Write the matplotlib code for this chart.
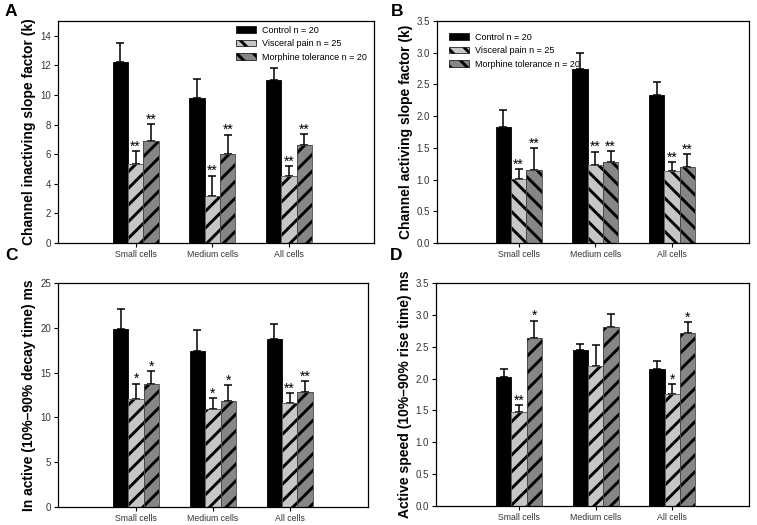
import matplotlib
matplotlib.use('Agg')
import matplotlib.pyplot as plt
from matplotlib.patches import Patch
import numpy as np

plt.rcParams['font.family'] = ['Liberation Sans', 'DejaVu Sans']
plt.rcParams['hatch.linewidth'] = 2.1

groups = ['Small cells', 'Medium cells', 'All cells']
series_labels = ['Control n = 20', 'Visceral pain n = 25', 'Morphine tolerance n = 20']

# Panel A
a_control = [12.22, 9.82, 10.98]
a_control_err = [1.28, 1.26, 0.87]
a_visceral = [5.36, 3.17, 4.54]
a_visceral_err = [0.87, 1.39, 0.66]
a_morphine = [6.90, 5.98, 6.65]
a_morphine_err = [1.15, 1.35, 0.72]
a_visceral_sig = ['**', '**', '**']
a_morphine_sig = ['**', '**', '**']

# Panel B
b_control = [1.83, 2.74, 2.33]
b_control_err = [0.27, 0.26, 0.21]
b_visceral = [1.01, 1.23, 1.14]
b_visceral_err = [0.16, 0.21, 0.13]
b_morphine = [1.15, 1.27, 1.20]
b_morphine_err = [0.34, 0.18, 0.20]
b_visceral_sig = ['**', '**', '**']
b_morphine_sig = ['**', '**', '**']

# Panel C
c_control = [19.9, 17.43, 18.74]
c_control_err = [2.2, 2.27, 1.66]
c_visceral = [12.0, 10.98, 11.66]
c_visceral_err = [1.76, 1.16, 1.05]
c_morphine = [13.72, 11.88, 12.78]
c_morphine_err = [1.48, 1.76, 1.24]
c_visceral_sig = ['*', '*', '**']
c_morphine_sig = ['*', '*', '**']

# Panel D
d_control = [2.02, 2.45, 2.15]
d_control_err = [0.13, 0.09, 0.13]
d_visceral = [1.48, 2.20, 1.76]
d_visceral_err = [0.10, 0.32, 0.15]
d_morphine = [2.64, 2.81, 2.72]
d_morphine_err = [0.27, 0.21, 0.17]
d_visceral_sig = ['**', '', '*']
d_morphine_sig = ['*', '', '*']

ylabels = {
    'A': 'Channel inactiving slope factor (k)',
    'B': 'Channel activing slope factor (k)',
    'C': 'In active (10%\u201390% decay time) ms',
    'D': 'Active speed (10%\u201390% rise time) ms',
}

W, H = 757, 525
fig = plt.figure(figsize=(W / 100, H / 100), dpi=100)

def px_axes(l, t, r, b):
    return fig.add_axes([l / W, 1 - b / H, (r - l) / W, (b - t) / H])

CTRL = '#000000'
VISC = '#c6c6c6'
MORPH = '#868686'

def draw_panel(ax, ctrl, ctrl_e, visc, visc_e, morph, morph_e, vsig, msig,
               hatch, ylim, yticks, yfmt, xlim, ylabel):
    x = np.arange(len(groups))
    w = 0.2
    ekw = dict(ecolor='black', elinewidth=1.1, capsize=2.6, capthick=1.1)
    ax.bar(x - w, ctrl, w, color=CTRL, edgecolor='black', linewidth=0.6,
           yerr=[np.zeros(3), ctrl_e], error_kw=ekw, zorder=2)
    ax.bar(x, visc, w, color=VISC, edgecolor='black', linewidth=0, hatch=hatch,
           yerr=[np.zeros(3), visc_e], error_kw=ekw, zorder=2)
    ax.bar(x, visc, w, fill=False, edgecolor='#555555', linewidth=0.6, zorder=3)
    ax.bar(x + w, morph, w, color=MORPH, edgecolor='black', linewidth=0, hatch=hatch,
           yerr=[np.zeros(3), morph_e], error_kw=ekw, zorder=2)
    ax.bar(x + w, morph, w, fill=False, edgecolor='#444444', linewidth=0.6, zorder=3)
    for i in range(3):
        if vsig[i]:
            ax.annotate(vsig[i], (x[i], visc[i] + visc_e[i]), xytext=(0, -1.8),
                        textcoords='offset points', ha='center', va='bottom',
                        fontsize=10, color='black')
        if msig[i]:
            ax.annotate(msig[i], (x[i] + w, morph[i] + morph_e[i]), xytext=(0, -1.8),
                        textcoords='offset points', ha='center', va='bottom',
                        fontsize=10, color='black')
    ax.set_xlim(*xlim)
    ax.set_ylim(*ylim)
    ax.set_yticks(yticks)
    ax.set_yticklabels([yfmt.format(v) for v in yticks])
    ax.set_xticks(x)
    ax.set_xticklabels(groups)
    ax.tick_params(axis='both', labelcolor='#333333', length=3, width=0.8, pad=2)
    ax.tick_params(axis='y', labelsize=7)
    ax.tick_params(axis='x', labelsize=6.3)
    for s in ax.spines.values():
        s.set_linewidth(0.9)
    ax.set_ylabel(ylabel, fontsize=10, fontweight='bold', labelpad=3)

axA = px_axes(58, 21, 374, 243)
draw_panel(axA, a_control, a_control_err, a_visceral, a_visceral_err,
           a_morphine, a_morphine_err, a_visceral_sig, a_morphine_sig,
           '//', (0, 15), list(range(0, 15, 2)), '{:d}', (-1.013, 3.107), ylabels['A'])

axB = px_axes(437, 21, 749, 243)
draw_panel(axB, b_control, b_control_err, b_visceral, b_visceral_err,
           b_morphine, b_morphine_err, b_visceral_sig, b_morphine_sig,
           '\\\\', (0, 3.5), [0, 0.5, 1.0, 1.5, 2.0, 2.5, 3.0, 3.5], '{:.1f}',
           (-1.063, 3.005), ylabels['B'])

axC = px_axes(58, 283, 368, 507)
draw_panel(axC, c_control, c_control_err, c_visceral, c_visceral_err,
           c_morphine, c_morphine_err, c_visceral_sig, c_morphine_sig,
           '//', (0, 25), [0, 5, 10, 15, 20, 25], '{:d}', (-1.016, 3.02), ylabels['C'])

axD = px_axes(436, 283, 749, 506)
draw_panel(axD, d_control, d_control_err, d_visceral, d_visceral_err,
           d_morphine, d_morphine_err, d_visceral_sig, d_morphine_sig,
           '//', (0, 3.5), [0, 0.5, 1.0, 1.5, 2.0, 2.5, 3.0, 3.5], '{:.1f}',
           (-1.08, 3.0), ylabels['D'])

handles = [
    Patch(facecolor=CTRL, edgecolor='black', linewidth=0.5),
    Patch(facecolor=VISC, edgecolor='black', linewidth=0.5, hatch='\\\\'),
    Patch(facecolor=MORPH, edgecolor='black', linewidth=0.5, hatch='\\\\'),
]
legkw = dict(frameon=False, fontsize=6.5, handlelength=2.3, handleheight=0.75,
             handletextpad=0.6, labelspacing=0.5)
axA.legend(handles, series_labels, loc='upper left', bbox_to_anchor=((233 - 58) / 316, 1 - 2 / 222),
           borderaxespad=0, borderpad=0.3, **legkw)
axB.legend(handles, series_labels, loc='upper left', bbox_to_anchor=((446 - 437) / 312, 1 - 9 / 222),
           borderaxespad=0, borderpad=0.3, **legkw)

for lab, xp, yp in [('A', 5, 4.5), ('B', 391, 4.5), ('C', 5, 248.5), ('D', 390, 248.5)]:
    fig.text(xp / W, 1 - yp / H, lab, fontsize=12.5, fontweight='bold', va='top', ha='left')

fig.savefig('out.png', dpi=100)
